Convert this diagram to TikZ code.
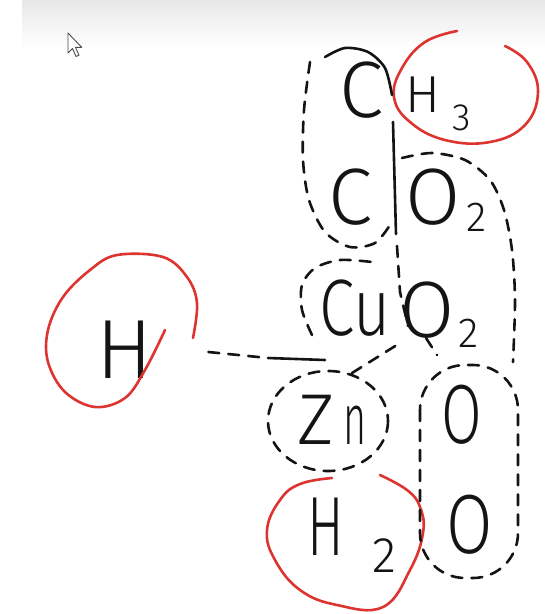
\documentclass[tikz,border=0pt]{standalone}
\usepackage{fontspec}
\newfontfamily\hand{Fira Sans Light}
\definecolor{redc}{RGB}{222,52,48}
\definecolor{inkc}{RGB}{20,20,20}
\newcommand\fsz[1]{\fontsize{#1}{#1}\selectfont}
\tikzset{
  ink/.style={line width=2.6pt, draw=inkc, line cap=round, line join=round},
  dashink/.style={ink, dash pattern=on 11pt off 9pt},
  redink/.style={line width=2.6pt, draw=redc, line cap=round, line join=round},
  chem/.style={inner sep=0pt, text=inkc},
}
\begin{document}
\begin{tikzpicture}[x=1pt,y=-1pt]
\useasboundingbox (0,0) rectangle (545,614);
% header band and cursor
\shade[top color=black!9, bottom color=white] (22,0) rectangle (545,48);
\draw[fill=white, draw=black!70, line width=0.9pt, line join=round]
  (68,33) -- ++(0,20) -- ++(4.5,-4.5) -- ++(3.5,8) -- ++(3,-1.3) -- ++(-3.5,-7.8) -- ++(6.3,0) -- cycle;

% texts
\node[chem, font=\hand\fsz{80}] (ctop) at (361,90) {C};
\node[chem, font=\hand\fsz{52}] (h3) at (438,104) {H\hspace{12pt}\raisebox{-18pt}{\fsz{38}3}};
\node[chem, font=\hand\fsz{80}] (cmid) at (350,197) {C};
\node[chem, font=\hand\fsz{80}] (o2a) at (446,200) {O\hspace{5pt}\raisebox{-7pt}{\fsz{42}2}};
\node[chem, font=\hand\fsz{80}] (cu) at (355,308) {\scalebox{0.8}[1]{Cu}};
\node[chem, font=\hand\fsz{80}] (o2b) at (439,315) {O\hspace{3pt}\raisebox{-10pt}{\fsz{42}2}};
\node[chem, font=\hand\fsz{84}] (hl) at (125,350) {H};
\node[chem, font=\hand\fsz{72}] (zn) at (332,420) {Z\hspace{8pt}\scalebox{0.55}[1]{n}};
\node[chem, font=\hand\fsz{84}] (oa) at (462,415) {\scalebox{0.7}[1]{O}};
\node[chem, font=\hand\fsz{84}] (ob) at (470,525) {\scalebox{0.8}[1]{O}};
\node[chem, font=\hand\fsz{84}] (h2) at (352,535) {\scalebox{0.65}[1]{H}\hspace{28pt}\raisebox{-17pt}{\fsz{50}2}};

% red circles
\draw[redink] plot[smooth, tension=0.7] coordinates {(457,31) (425,42) (402,68) (394,97) (410,122) (445,140) (490,142) (525,125) (538,92) (527,62) (505,46)};
\draw[redink] plot[smooth, tension=0.6] coordinates {(193,338) (197,303) (187,277) (163,257) (117,255) (90,270) (63,297) (48,330) (48,362) (65,392) (95,407) (125,398) (145,370) (165,330)};
\draw[redink] plot[smooth, tension=0.7] coordinates {(332,478) (300,484) (280,500) (267,530) (275,560) (300,590) (337,605) (383,607) (410,570) (423,533) (420,507) (407,490) (380,475)};

% left group (C, C)
\draw[ink] plot[smooth] coordinates {(325,57) (345,48) (368,52) (385,68) (392,95)};
\draw[dashink] plot[smooth] coordinates {(310,62) (304,110) (303,160) (309,200) (325,232) (350,247) (375,243) (390,225)};
% separator line
\draw[ink] (393,122) -- (396,234);
\draw[dashink] (397,246) -- (400,292) -- (408,326);
% right group (O2, O2)
\draw[dashink] plot[smooth] coordinates {(402,158) (432,153) (465,160) (490,180) (504,210) (512,250) (515,300) (513,362)};
\draw[dashink] (426,338) -- (437,355);
% Cu group
\draw[dashink] plot[smooth] coordinates {(312,335) (302,310) (302,285) (315,268) (340,260) (372,262)};
% Zn group
\draw[dashink] (328,421) ellipse [x radius=60, y radius=50];
% O, O group
\draw[dashink, rounded corners=45] (420,365) rectangle (518,578);

% connector from H
\coordinate (k1) at (268,358);
\coordinate (k2) at (325,360);
\coordinate (k3) at (352,373);
\coordinate (k4) at (400,343);
\draw[dashink] (hl.east) ++(55,2) -- (k1);
\draw[ink] (k1) -- (k2);
\draw[dashink] (k3) -- (k4);
\end{tikzpicture}
\end{document}
